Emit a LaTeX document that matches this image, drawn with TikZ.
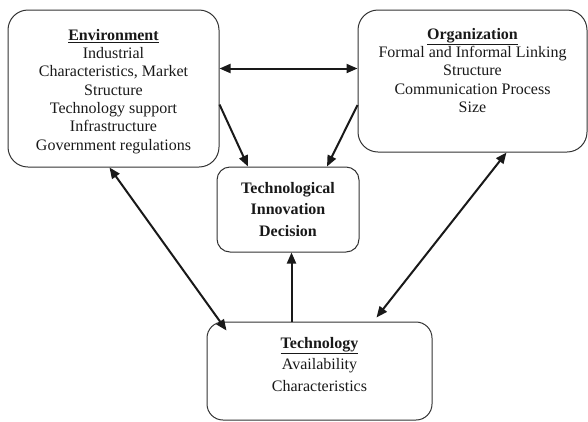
\documentclass[tikz,border=0pt]{standalone}
\usepackage{fontspec}
\setmainfont{Liberation Serif}
\usetikzlibrary{arrows.meta}
\begin{document}
\begin{tikzpicture}[x=1pt,y=-1pt,
  box/.style={draw=black!80, line width=1pt, rounded corners=#1, inner sep=0pt},
  box/.default=20pt,
  txt/.style={anchor=north, align=center, inner sep=0pt, text=black!90,
    font=\fontsize{16}{18.3}\selectfont},
  txtb/.style={anchor=north, align=center, inner sep=0pt, text=black!90,
    font=\fontsize{16}{21.5}\selectfont},
  conn/.style={line width=2pt, black!90, -{Triangle[length=11pt,width=9pt]}},
  conn2/.style={line width=2pt, black!90, {Triangle[length=11pt,width=9pt]}-{Triangle[length=11pt,width=9pt]}}
]
\useasboundingbox (0,0) rectangle (588,421);
% boxes
\node[box, minimum width=211pt, minimum height=157pt] (env) at (113.5,88.5) {};
\node[box, minimum width=229pt, minimum height=142pt] (org) at (472.5,81) {};
\node[box=13pt, minimum width=142pt, minimum height=85pt] (tid) at (288,209.5) {};
\node[box=16pt, minimum width=225pt, minimum height=98pt] (tech) at (319.5,371) {};
% texts
\node[txt] (envt) at (113.5,29) {\textbf{\underline{Environment}}\\Industrial\\Characteristics, Market\\Structure\\Technology support\\Infrastructure\\Government regulations};
\node[txt] (orgt) at (472.5,28) {\textbf{\underline{Organization}}\\Formal and Informal Linking\\Structure\\Communication Process\\Size};
\node[txtb] (tidt) at (288,182) {\textbf{Technological}\\\textbf{Innovation}\\\textbf{Decision}};
\node[txtb] (techt) at (319.5,337) {\textbf{\underline{Technology}}\\Availability\\Characteristics};
% connectors
\coordinate (eo) at ([yshift=20pt]env.east);
\draw[conn2] (eo) -- (eo -| org.west);
\draw[conn] ([yshift=-16pt]env.east) -- ([xshift=-40pt]tid.north);
\draw[conn] ([yshift=-24pt]org.west) -- ([xshift=39pt]tid.north);
\coordinate (tt) at ([xshift=-28pt]tech.north);
\draw[conn] (tt) -- (tt |- tid.south);
\draw[conn2] ([xshift=-4pt]env.south) -- ([xshift=20pt,yshift=-9pt]tech.north west);
\draw[conn2] ([xshift=34pt]org.south) -- ([xshift=57pt,yshift=4pt]tech.north);
\end{tikzpicture}
\end{document}
